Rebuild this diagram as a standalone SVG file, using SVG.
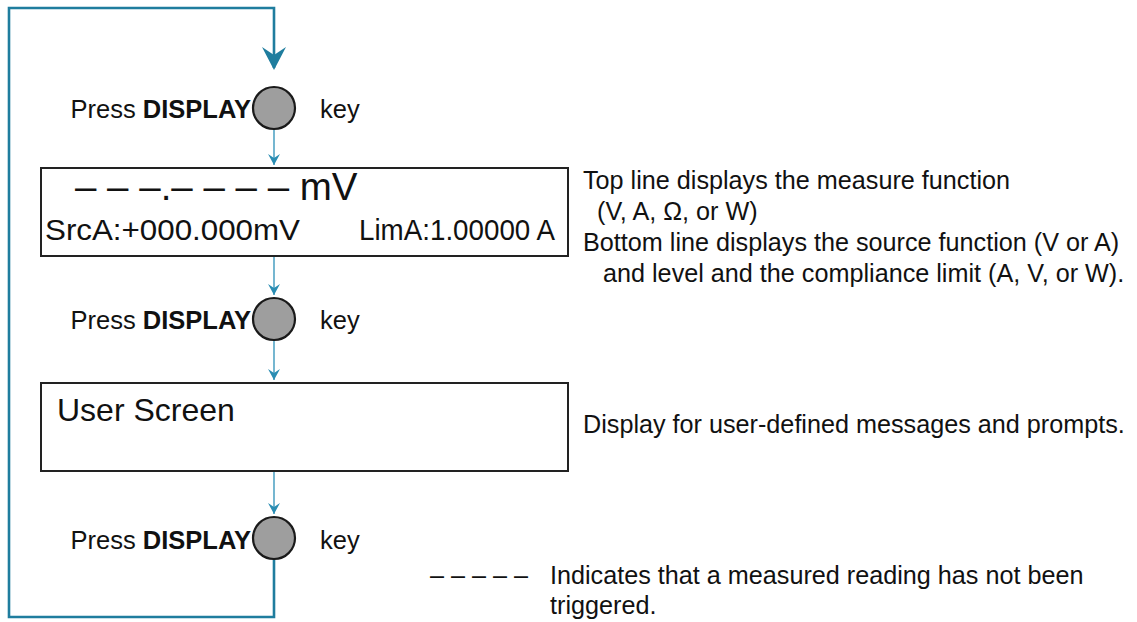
<svg xmlns="http://www.w3.org/2000/svg" width="1137" height="622" viewBox="0 0 1137 622">
<defs>
<style>
text{font-family:"Liberation Sans",Arial,sans-serif;fill:#111}
.lbl{font-size:25.5px}
.note{font-size:25.2px}
.b{font-weight:bold}
.box{fill:#fff;stroke:#222;stroke-width:2}
.key{fill:#9e9e9e;stroke:#1a1a1a;stroke-width:2.2}
.thin{fill:none;stroke:#3b98bd;stroke-width:1.4}
.loop{fill:none;stroke:#1f7d9e;stroke-width:2.6}
.scr{font-size:30px}
</style>
<marker id="sm" viewBox="0 0 12 12" refX="6" refY="11" markerWidth="12" markerHeight="12" markerUnits="userSpaceOnUse" orient="0">
<path d="M0,0 L6,11 L12,0 L6,4 Z" fill="#2a8db3"/>
</marker>
</defs>

<g id="connectors">
<path class="loop" d="M274,559 V617 H9 V8 H274 V68"/>
<path d="M262,47 L274,70 L286,47 L274,55 Z" fill="#1f7d9e"/>
<line class="thin" x1="274" y1="130" x2="274" y2="165" marker-end="url(#sm)"/>
<line class="thin" x1="274" y1="257" x2="274" y2="295" marker-end="url(#sm)"/>
<line class="thin" x1="274" y1="341" x2="274" y2="380" marker-end="url(#sm)"/>
<line class="thin" x1="274" y1="472" x2="274" y2="514" marker-end="url(#sm)"/>
</g>

<g id="key1">
<text class="lbl" x="251" y="118" text-anchor="end">Press <tspan class="b">DISPLAY</tspan></text>
<circle class="key" cx="274" cy="108" r="21"/>
<text class="lbl" x="320" y="118">key</text>
</g>

<g id="screen1">
<rect class="box" x="41" y="168" width="527" height="88"/>
<text x="75" y="200" style="font-size:38.5px">– – –.– – – – mV</text>
<text class="scr" x="45" y="240" textLength="255" lengthAdjust="spacingAndGlyphs">SrcA:+000.000mV</text>
<text class="scr" x="359" y="240" textLength="196" lengthAdjust="spacingAndGlyphs">LimA:1.00000 A</text>
</g>

<g id="key2">
<text class="lbl" x="251" y="329" text-anchor="end">Press <tspan class="b">DISPLAY</tspan></text>
<circle class="key" cx="274" cy="319" r="21"/>
<text class="lbl" x="320" y="329">key</text>
</g>

<g id="screen2">
<rect class="box" x="41" y="383" width="527" height="88"/>
<text x="57" y="421" style="font-size:32px">User Screen</text>
</g>

<g id="key3">
<text class="lbl" x="251" y="549" text-anchor="end">Press <tspan class="b">DISPLAY</tspan></text>
<circle class="key" cx="274" cy="538" r="21"/>
<text class="lbl" x="320" y="549">key</text>
</g>

<g id="notes">
<text class="note" x="583" y="189">Top line displays the measure function</text>
<text class="note" x="597" y="220">(V, A, Ω, or W)</text>
<text class="note" x="583" y="251">Bottom line displays the source function (V or A)</text>
<text class="note" x="603" y="282">and level and the compliance limit (A, V, or W).</text>
<text class="note" x="583" y="433">Display for user-defined messages and prompts.</text>
</g>

<g id="legend">
<text class="note" x="430" y="584">– – – – –</text>
<text class="note" x="550" y="584">Indicates that a measured reading has not been</text>
<text class="note" x="550" y="614">triggered.</text>
</g>
</svg>
